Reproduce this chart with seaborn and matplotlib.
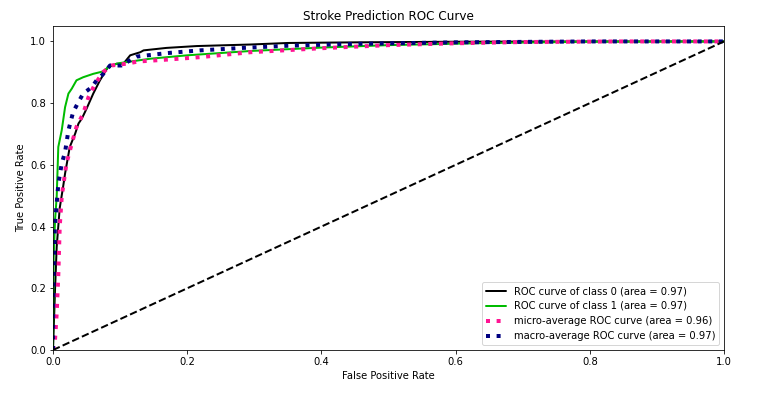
import matplotlib
matplotlib.use("Agg")
import matplotlib.pyplot as plt
import seaborn as sns
import numpy as np
import pandas as pd

# ROC curve data
fpr_class0 = [0.0, 0.003, 0.0055, 0.010, 0.015, 0.018, 0.025, 0.033, 0.038, 0.043, 0.050, 0.060,
              0.070, 0.082, 0.095, 0.105, 0.115, 0.130, 0.135, 0.169, 0.214, 0.294, 0.350, 0.450, 0.600, 0.800, 1.0]
tpr_class0 = [0.0, 0.194, 0.334, 0.460, 0.528, 0.572, 0.658, 0.701, 0.734, 0.750, 0.782, 0.831,
              0.874, 0.917, 0.928, 0.928, 0.955, 0.965, 0.971, 0.979, 0.985, 0.990, 0.995, 0.997, 0.999, 1.0, 1.0]

fpr_class1 = [0.0, 0.001, 0.003, 0.0055, 0.0079, 0.013, 0.018, 0.023, 0.028, 0.035, 0.045, 0.060,
              0.075, 0.085, 0.100, 0.145, 0.200, 0.294, 0.400, 0.500, 0.650, 0.800, 1.0]
tpr_class1 = [0.0, 0.300, 0.420, 0.496, 0.658, 0.712, 0.787, 0.831, 0.847, 0.874, 0.884, 0.895,
              0.903, 0.922, 0.930, 0.944, 0.955, 0.969, 0.980, 0.988, 0.995, 0.999, 1.0]

fpr_micro = [0.0, 0.003, 0.0055, 0.008, 0.010, 0.013, 0.015, 0.020, 0.028, 0.035, 0.045, 0.053,
             0.063, 0.075, 0.087, 0.110, 0.127, 0.169, 0.219, 0.294, 0.400, 0.500, 0.600, 0.700, 0.850, 1.0]
tpr_micro = [0.0, 0.032, 0.119, 0.249, 0.399, 0.496, 0.528, 0.604, 0.669, 0.723, 0.766, 0.820,
             0.863, 0.901, 0.922, 0.928, 0.935, 0.941, 0.949, 0.965, 0.978, 0.988, 0.994, 0.998, 1.0, 1.0]

fpr_macro = [0.0, 0.0005, 0.003, 0.008, 0.013, 0.018, 0.023, 0.030, 0.038, 0.045, 0.058, 0.065,
             0.075, 0.085, 0.102, 0.115, 0.125, 0.169, 0.219, 0.283, 0.350, 0.450, 0.600, 0.800, 1.0]
tpr_macro = [0.0, 0.226, 0.410, 0.539, 0.604, 0.642, 0.712, 0.771, 0.804, 0.831, 0.852, 0.874,
             0.895, 0.922, 0.922, 0.939, 0.951, 0.962, 0.971, 0.979, 0.986, 0.992, 0.997, 1.0, 1.0]

diag_x = [0.0, 1.0]
diag_y = [0.0, 1.0]

labels = ["ROC curve of class 0 (area = 0.97)",
          "ROC curve of class 1 (area = 0.97)",
          "micro-average ROC curve (area = 0.96)",
          "macro-average ROC curve (area = 0.97)"]

sns.set_style("white")
plt.rcParams['font.family'] = ['DejaVu Sans']
plt.rcParams['text.color'] = 'black'
plt.rcParams['axes.labelcolor'] = 'black'
plt.rcParams['xtick.color'] = 'black'
plt.rcParams['ytick.color'] = 'black'
plt.rcParams['axes.edgecolor'] = 'black'

fig = plt.figure(figsize=(772 / 72, 396 / 72), dpi=72)
ax = fig.add_axes([53 / 772, 1 - 350 / 396, (724 - 53) / 772, (350 - 26) / 396])

cmap = plt.get_cmap('nipy_spectral')

sns.lineplot(x=fpr_class0, y=tpr_class0, ax=ax, color=cmap(0.0), linewidth=2,
             sort=False, estimator=None, label=labels[0])
sns.lineplot(x=fpr_class1, y=tpr_class1, ax=ax, color=cmap(0.5), linewidth=2,
             sort=False, estimator=None, label=labels[1])
sns.lineplot(x=fpr_micro, y=tpr_micro, ax=ax, color='deeppink', linewidth=4, linestyle=':',
             sort=False, estimator=None, label=labels[2])
sns.lineplot(x=fpr_macro, y=tpr_macro, ax=ax, color='navy', linewidth=4, linestyle=':',
             sort=False, estimator=None, label=labels[3])
sns.lineplot(x=diag_x, y=diag_y, ax=ax, color='k', linewidth=2, linestyle='--',
             sort=False, estimator=None)

ax.set_xlim(0.0, 1.0)
ax.set_ylim(0.0, 1.05)
ax.set_title("Stroke Prediction ROC Curve", fontsize=12, color='black')
ax.set_xlabel("False Positive Rate", fontsize=10, color='black')
ax.set_ylabel("True Positive Rate", fontsize=10, color='black')
ax.tick_params(labelsize=10, direction='out', length=3.5, width=0.8, left=True, bottom=True,
               colors='black')
for s in ax.spines.values():
    s.set_color('black')
    s.set_linewidth(0.8)
leg = ax.legend(loc='lower right', fontsize=10, frameon=True, edgecolor='0.8')
for t in leg.get_texts():
    t.set_color('black')

fig.savefig("out.png", dpi=72, facecolor='white')
